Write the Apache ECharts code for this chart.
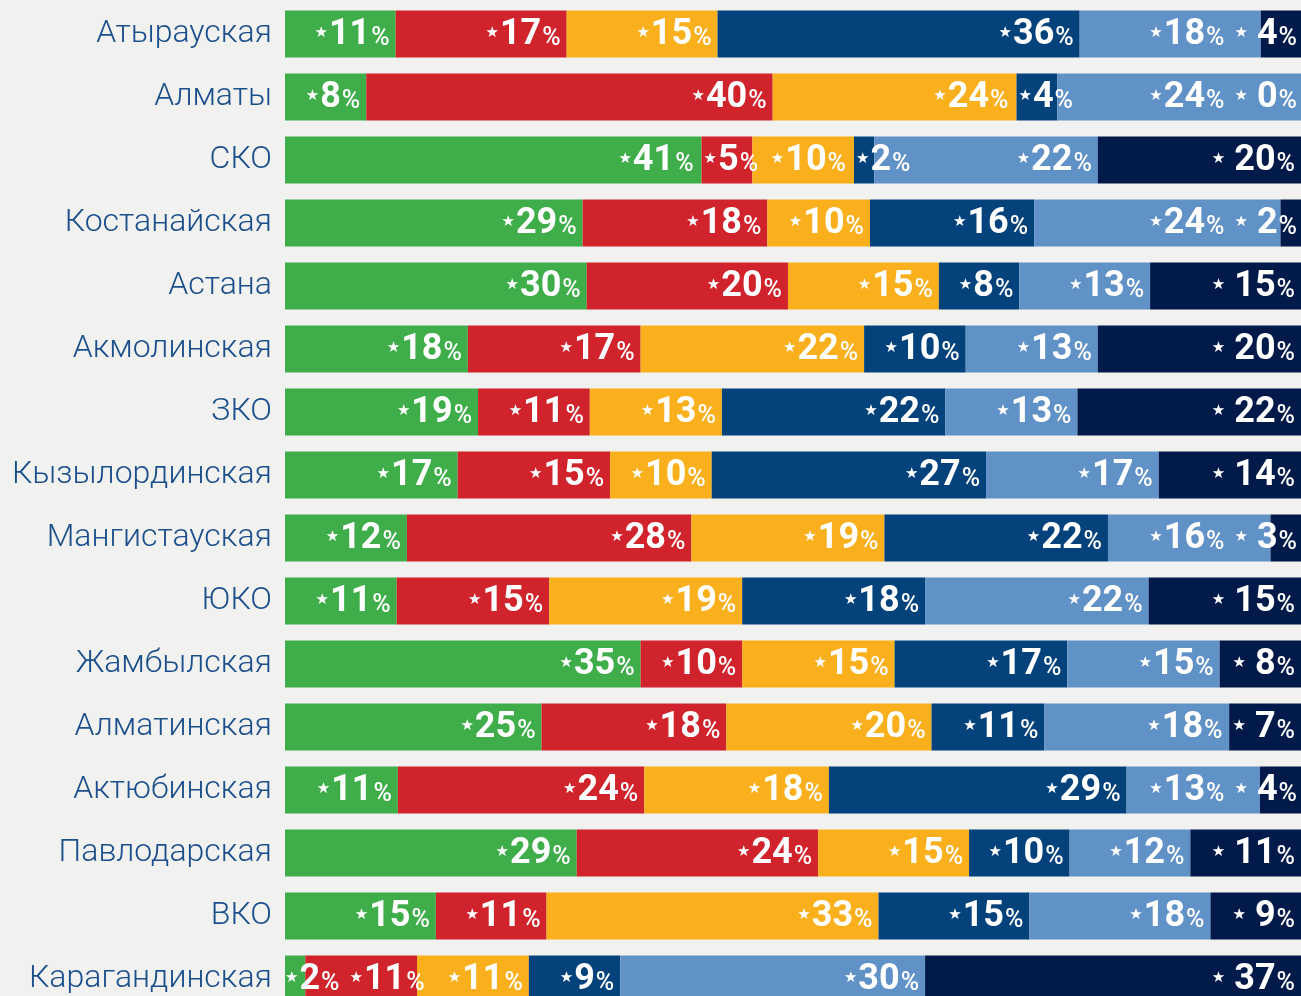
<!DOCTYPE html>
<html>
<head>
<meta charset="utf-8">
<script src="https://cdn.jsdelivr.net/npm/echarts@6/dist/echarts.min.js"></script>
<style>
  html, body { margin: 0; padding: 0; background: #f1f1f0; overflow: hidden; }
  #chart { width: 1301px; height: 1011px; }
</style>
</head>
<body>
<div id="chart"></div>
<script>
// Regions (top to bottom)
const regions = ['Атырауская', 'Алматы', 'СКО', 'Костанайская', 'Астана', 'Акмолинская', 'ЗКО',
  'Кызылординская', 'Мангистауская', 'ЮКО', 'Жамбылская', 'Алматинская', 'Актюбинская',
  'Павлодарская', 'ВКО', 'Карагандинская'];

// Shares per region, %
const green     = [11, 8, 41, 29, 30, 18, 19, 17, 12, 11, 35, 25, 11, 29, 15, 2];
const red       = [17, 40, 5, 18, 20, 17, 11, 15, 28, 15, 10, 18, 24, 24, 11, 11];
const orange    = [15, 24, 10, 10, 15, 22, 13, 10, 19, 19, 15, 20, 18, 15, 33, 11];
const blue      = [36, 4, 2, 16, 8, 10, 22, 27, 22, 18, 17, 11, 29, 10, 15, 9];
const lightBlue = [18, 24, 22, 24, 13, 13, 13, 17, 16, 22, 15, 18, 13, 12, 18, 30];
const navy      = [4, 0, 20, 2, 15, 20, 22, 14, 3, 15, 8, 7, 4, 11, 9, 37];

const groups = [
  { name: 'g1', values: green, color: '#3fae4a' },
  { name: 'g2', values: red, color: '#d0232b' },
  { name: 'g3', values: orange, color: '#f9b01c' },
  { name: 'g4', values: blue, color: '#04427c' },
  { name: 'g5', values: lightBlue, color: '#6091c7' },
  { name: 'g6', values: navy, color: '#021a49', gap: true }
];

// Each row is scaled to a full 100% bar
const rowTotals = regions.map((_, i) => groups.reduce((s, g) => s + g.values[i], 0));

const rich = {
  s: { fontFamily: 'DejaVu Sans', fontSize: 15, color: '#fff', padding: [0, 1, 4, 0] },
  sg: { fontFamily: 'DejaVu Sans', fontSize: 15, color: '#fff', padding: [0, 9, 4, 0] },
  v: { fontFamily: 'Roboto', fontWeight: 'bold', fontSize: 36, color: '#fff' },
  p: { fontFamily: 'Roboto', fontWeight: 500, fontSize: 25, color: '#fff', padding: [7, 0, 0, 1] }
};

// Label placement: right-aligned inside the segment when it fits, otherwise
// started at the segment's left edge; labels in a row never overlap.
const PAD = 6, GAP = 10;
const boxes = {};
let placed = null;

function labelLayout(p) {
  const key = p.seriesIndex + '-' + p.dataIndex;
  const cy = p.rect.y + p.rect.height / 2 + 1;
  if (!placed) {
    boxes[key] = { x: p.rect.x, w: p.rect.width, lw: p.labelRect.width };
    return {};
  }
  return { x: placed[key], y: cy, align: 'left', verticalAlign: 'middle' };
}

function computePlacement() {
  const out = {};
  regions.forEach((_, d) => {
    const row = groups.map((g, s) => boxes[s + '-' + d]);
    const last = row[row.length - 1];
    const rowEnd = last.x + last.w;
    const lefts = row.map(b => (b.lw + PAD <= b.w ? b.x + b.w - PAD - b.lw : b.x + 2));
    for (let s = 1; s < row.length; s++) {
      const minLeft = lefts[s - 1] + row[s - 1].lw + 8;
      if (lefts[s] < minLeft) lefts[s] = minLeft;
    }
    const n = row.length - 1;
    lefts[n] = Math.min(lefts[n], rowEnd - 4 - row[n].lw);
    for (let s = n - 1; s >= 0; s--) {
      const maxLeft = lefts[s + 1] - GAP - row[s].lw;
      if (lefts[s] > maxLeft) lefts[s] = maxLeft;
    }
    lefts.forEach((x, s) => { out[s + '-' + d] = x; });
  });
  return out;
}

const series = groups.map(g => ({
  name: g.name,
  type: 'bar',
  stack: 'total',
  barWidth: 47,
  itemStyle: { color: g.color },
  label: {
    show: true,
    position: 'insideRight',
    distance: PAD,
    rich: rich,
    formatter: p => (g.gap ? '{sg|★}' : '{s|★}') + '{v|' + g.values[p.dataIndex] + '}{p|%}'
  },
  labelLayout: labelLayout,
  data: g.values.map((v, i) => v / rowTotals[i] * 100)
}));

const chart = echarts.init(document.getElementById('chart'));
const option = {
  backgroundColor: '#f1f1f0',
  animation: false,
  grid: { left: 285, right: 0, top: 2.5, bottom: 0.5 },
  xAxis: { type: 'value', min: 0, max: 100, show: false },
  yAxis: {
    type: 'category',
    data: regions,
    inverse: true,
    axisLine: { show: false },
    axisTick: { show: false },
    splitLine: { show: false },
    axisLabel: {
      margin: 13,
      fontFamily: 'Roboto',
      fontWeight: 300,
      fontSize: 32,
      color: '#1b4f8c'
    }
  },
  series: series
};
chart.setOption(option);
placed = computePlacement();
chart.setOption(option, true);
</script>
</body>
</html>
